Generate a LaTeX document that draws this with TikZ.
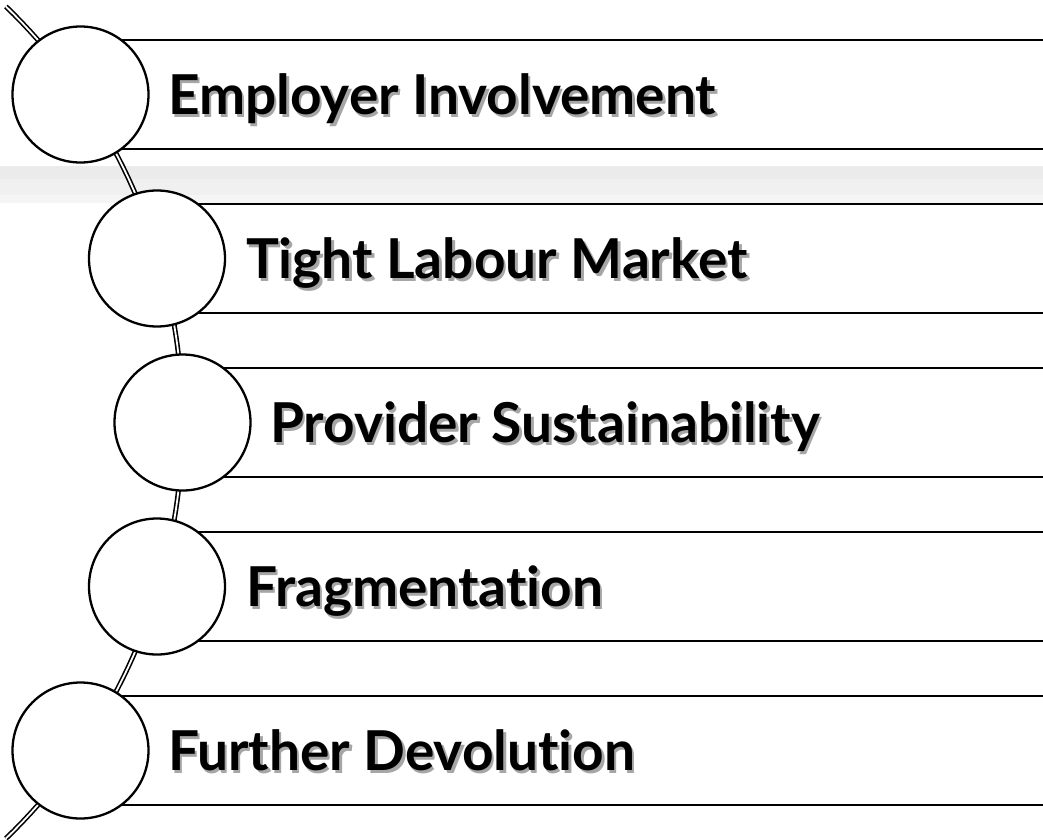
\documentclass[tikz,border=0pt]{standalone}
\usepackage{fontspec}
\setmainfont{Lato}[UprightFont=* Bold,Ligatures=NoCommon]
\newcommand{\shadtxt}[1]{\rlap{\kern2.5pt\raisebox{-2.5pt}{\color{black!35}#1}}#1}
\begin{document}
\begin{tikzpicture}[x=1pt,y=-1pt,
  bub/.style={circle,draw=black,line width=2.3pt,fill=white,minimum size=136pt,inner sep=0pt},
  barline/.style={line width=2.8pt,black},
  lbl/.style={anchor=base west,inner sep=0pt,font=\fontsize{55}{60}\selectfont},
  spine/.style={double=white,draw=black,line width=1.6pt,double distance=1.8pt}]
\useasboundingbox (0,0) rectangle (1043,839);
% light band
\fill[black!8] (0,166) rectangle (1043,179);
\fill[black!6] (0,179) rectangle (1043,195);
\fill[black!4] (0,195) rectangle (1043,203);
% spine
\draw[spine] plot[domain=-46:46,samples=80] ({-395.9+578.4*cos(\x)},{422.5+578.4*sin(\x)});
% bars
\foreach \cx/\t [count=\i] in {80.5/40,157/204,182.5/368,157/532,80.5/696}{
  \draw[barline] (\cx,\t) -- (1050,\t);
  \draw[barline] (\cx,\t+109) -- (1050,\t+109);
}
% circles
\node[bub] (c1) at (80.5,94.5) {};
\node[bub] (c2) at (157,258.5) {};
\node[bub] (c3) at (182.5,422.5) {};
\node[bub] (c4) at (157,586.5) {};
\node[bub] (c5) at (80.5,750.5) {};
% labels with shadow
\node[lbl] (t1) at (168,114.5) {\shadtxt{Employer Involvement}};
\node[lbl] (t2) at (246,278.5) {\shadtxt{Tight Labour Market}};
\node[lbl] (t3) at (270,442.5) {\shadtxt{Provider Sustainability}};
\node[lbl] (t4) at (246,606.5) {\shadtxt{Fragmentation}};
\node[lbl] (t5) at (168,770.5) {\shadtxt{Further Devolution}};
\end{tikzpicture}
\end{document}
